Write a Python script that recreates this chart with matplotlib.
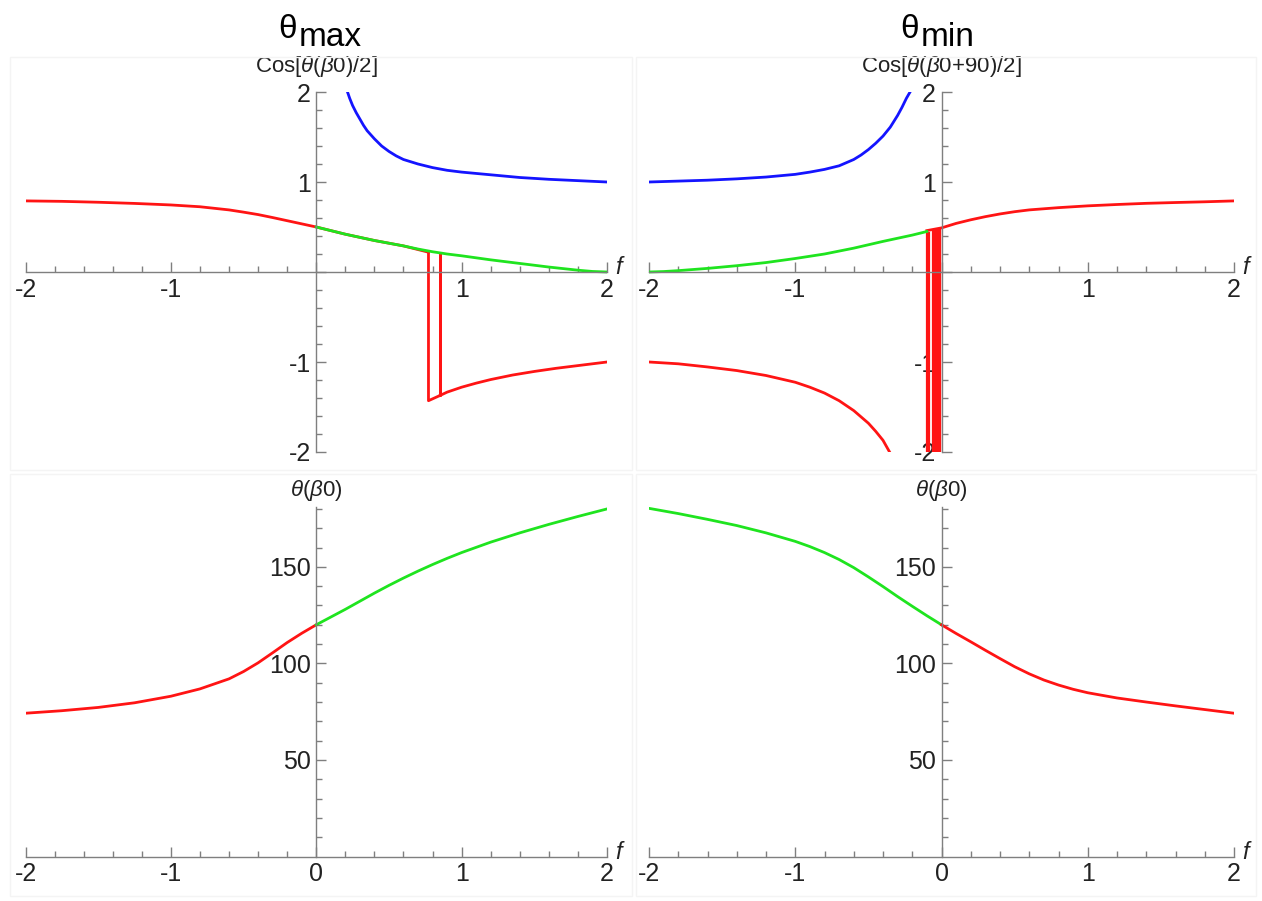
import matplotlib
matplotlib.use("Agg")
import matplotlib.pyplot as plt
import numpy as np

plt.rcParams['font.family'] = ['Liberation Sans', 'DejaVu Sans']
plt.rcParams['mathtext.fontset'] = 'custom'
plt.rcParams['mathtext.rm'] = 'Liberation Sans'
plt.rcParams['mathtext.it'] = 'Liberation Sans:italic'

RED = '#ff1414'
GREEN = '#1fe41f'
BLUE = '#1414ff'
AXIS = '#7f7f7f'
LABEL = '#222222'

# ---- theta_max, Cos[theta(b0)/2] ----
tl_red_f = [-2, -1.75, -1.5, -1.25, -1.0, -0.8, -0.6, -0.5, -0.4, -0.3, -0.2, -0.1, 0,
            0.2, 0.4, 0.6, 0.772]
tl_red_y = [0.79, 0.785, 0.775, 0.762, 0.745, 0.725, 0.69, 0.665, 0.638, 0.605, 0.57, 0.535, 0.5,
            0.42, 0.35, 0.29, 0.22]
tl_drop_f = [0.772, 0.772, 0.854, 0.854, 0.854]
tl_drop_y = [0.22, -1.43, -1.37, 0.20, -1.37]
tl_low_f = [0.854, 0.9, 1.0, 1.1, 1.2, 1.35, 1.5, 1.65, 1.8, 2.0]
tl_low_y = [-1.37, -1.335, -1.28, -1.235, -1.195, -1.145, -1.105, -1.07, -1.04, -1.0]
tl_green_f = [0, 0.1, 0.2, 0.3, 0.4, 0.5, 0.6, 0.7, 0.8, 0.9, 1.0, 1.2, 1.4, 1.6, 1.8, 1.9, 2.0]
tl_green_y = [0.5, 0.46, 0.42, 0.385, 0.35, 0.32, 0.29, 0.255, 0.225, 0.2, 0.18, 0.135, 0.095,
              0.055, 0.02, 0.006, 0.0]
tl_blue_f = [0.215, 0.23, 0.25, 0.275, 0.3, 0.325, 0.35, 0.4, 0.45, 0.5, 0.55, 0.6, 0.7, 0.8,
             0.9, 1.0, 1.2, 1.4, 1.6, 1.8, 2.0]
tl_blue_y = [2.0, 1.93, 1.85, 1.77, 1.70, 1.63, 1.57, 1.48, 1.40, 1.34, 1.29, 1.25, 1.20, 1.16,
             1.13, 1.11, 1.08, 1.05, 1.03, 1.015, 1.0]

# ---- theta_min, Cos[theta(b0+90)/2] ----
tr_red_f = [-0.1, 0, 0.1, 0.2, 0.3, 0.4, 0.5, 0.6, 0.8, 1.0, 1.2, 1.4, 1.6, 1.8, 2.0]
tr_red_y = [0.46, 0.49, 0.54, 0.58, 0.615, 0.645, 0.67, 0.69, 0.715, 0.735, 0.75, 0.763, 0.772,
            0.78, 0.79]
tr_low_f = [-2, -1.8, -1.6, -1.4, -1.2, -1.0, -0.9, -0.8, -0.7, -0.6, -0.5, -0.45, -0.4, -0.355]
tr_low_y = [-1.0, -1.02, -1.055, -1.095, -1.15, -1.225, -1.28, -1.345, -1.43, -1.54, -1.68,
            -1.77, -1.87, -2.0]
tr_green_f = [-2, -1.9, -1.8, -1.6, -1.4, -1.2, -1.0, -0.8, -0.6, -0.4, -0.2, -0.1]
tr_green_y = [0.0, 0.005, 0.015, 0.04, 0.07, 0.105, 0.15, 0.2, 0.265, 0.34, 0.41, 0.45]
tr_blue_f = [-2, -1.8, -1.6, -1.4, -1.2, -1.0, -0.9, -0.8, -0.7, -0.6, -0.55, -0.5, -0.45, -0.4,
             -0.35, -0.3, -0.27, -0.24, -0.215]
tr_blue_y = [1.0, 1.01, 1.02, 1.035, 1.055, 1.085, 1.11, 1.14, 1.18, 1.25, 1.30, 1.36, 1.43,
             1.51, 1.61, 1.74, 1.83, 1.93, 2.0]
tr_spike_f = [-0.100, -0.088, -0.055, -0.049, -0.043, -0.037, -0.031, -0.025, -0.019, -0.013,
              -0.008]
tr_spike_top = [0.45, 0.45, 0.47, 0.47, 0.475, 0.48, 0.48, 0.485, 0.485, 0.49, 0.49]

# ---- theta(b0) ----
bl_red_f = [-2, -1.75, -1.5, -1.25, -1.0, -0.8, -0.6, -0.5, -0.4, -0.3, -0.2, -0.1, 0]
bl_red_y = [74.2, 75.5, 77.2, 79.6, 83.0, 86.8, 92.0, 95.8, 100.3, 105.5, 110.8, 115.6, 120]
bl_green_f = [0, 0.1, 0.2, 0.3, 0.4, 0.5, 0.6, 0.7, 0.8, 0.9, 1.0, 1.2, 1.4, 1.6, 1.8, 2.0]
bl_green_y = [120, 124, 128, 132.2, 136.4, 140.4, 144.2, 147.8, 151.2, 154.4, 157.4, 162.8,
              167.6, 172.0, 176.1, 180]
br_green_f = [-2, -1.8, -1.6, -1.4, -1.2, -1.0, -0.9, -0.8, -0.7, -0.6, -0.5, -0.4, -0.3, -0.2,
              -0.1, 0]
br_green_y = [180.3, 177.6, 174.6, 171.4, 167.6, 163.2, 160.5, 157.4, 153.8, 149.6, 144.8,
              139.8, 134.6, 129.6, 124.7, 120]
br_red_f = [0, 0.1, 0.2, 0.3, 0.4, 0.5, 0.6, 0.7, 0.8, 0.9, 1.0, 1.2, 1.4, 1.6, 1.8, 2.0]
br_red_y = [120, 115.5, 111.2, 106.8, 102.5, 98.3, 94.6, 91.4, 88.8, 86.6, 84.8, 82.1, 80.0,
            78.0, 76.1, 74.2]

x_ticks = [-2, -1, 0, 1, 2]

W, H = 1262, 901
fig = plt.figure(figsize=(W / 100, H / 100), dpi=100)


def px_rect(x0, x1, ytop, ybot):
    return [x0 / W, 1 - ybot / H, (x1 - x0) / W, (ybot - ytop) / H]


def style_axes(ax, ylim, yticks, ylabels, yminor, xlabels, ylabel, label_gap):
    ax.set_xlim(-2, 2)
    ax.set_ylim(*ylim)
    ax.patch.set_alpha(0)
    for side in ('top', 'right'):
        ax.spines[side].set_visible(False)
    ax.spines['left'].set_position(('data', 0))
    ax.spines['bottom'].set_position(('data', 0))
    for side in ('left', 'bottom'):
        ax.spines[side].set_color(AXIS)
        ax.spines[side].set_linewidth(1.0)
    ax.set_xticks(x_ticks)
    ax.set_xticklabels(xlabels)
    ax.set_xticks(np.arange(-2, 2.01, 0.2), minor=True)
    ax.set_yticks(yticks)
    ax.set_yticklabels(ylabels)
    ax.set_yticks(yminor, minor=True)
    ax.tick_params(which='both', direction='in', color=AXIS, width=1.0,
                   labelsize=18, labelcolor=LABEL, pad=4)
    ax.tick_params(which='major', length=7)
    ax.tick_params(which='minor', length=4)
    ax.annotate(ylabel, xy=(0, 1), xycoords=('data', 'axes fraction'),
                xytext=(0, label_gap), textcoords='offset points', ha='center',
                va='bottom', fontsize=16, color=LABEL, annotation_clip=False)
    ax.annotate('f', xy=(1, 0), xycoords=('axes fraction', 'data'),
                xytext=(6, 3), textcoords='offset points', ha='left',
                va='center', fontsize=17, style='italic', color=LABEL,
                annotation_clip=False)


cos_ticks = [-2, -1, 0, 1, 2]
cos_labels = ['-2', '-1', '', '1', '2']
cos_minor = np.arange(-2, 2.01, 0.2)
th_ticks = [50, 100, 150]
th_labels = ['50', '100', '150']
th_minor = np.arange(10, 181, 10)
lw = 2.0

ax_tl = fig.add_axes(px_rect(25.5, 607, 92, 452))
style_axes(ax_tl, (-2, 2), cos_ticks, cos_labels, cos_minor,
           ['-2', '-1', '', '1', '2'], r'Cos[$\theta$($\beta$0)/2]', 9.5)
ax_tl.plot(tl_red_f, tl_red_y, color=RED, lw=lw)
ax_tl.plot(tl_drop_f, tl_drop_y, color=RED, lw=lw)
ax_tl.plot(tl_low_f, tl_low_y, color=RED, lw=lw)
ax_tl.plot(tl_green_f, tl_green_y, color=GREEN, lw=lw)
ax_tl.plot(tl_blue_f, tl_blue_y, color=BLUE, lw=lw)

ax_tr = fig.add_axes(px_rect(649, 1234, 92, 452))
style_axes(ax_tr, (-2, 2), cos_ticks, cos_labels, cos_minor,
           ['-2', '-1', '', '1', '2'], r'Cos[$\theta$($\beta$0+90)/2]', 9.5)
ax_tr.plot(tr_red_f, tr_red_y, color=RED, lw=lw)
ax_tr.plot(tr_low_f, tr_low_y, color=RED, lw=lw)
ax_tr.vlines(tr_spike_f, -2, tr_spike_top, color=RED, lw=1.6)
ax_tr.plot(tr_green_f, tr_green_y, color=GREEN, lw=lw)
ax_tr.plot(tr_blue_f, tr_blue_y, color=BLUE, lw=lw)

ax_bl = fig.add_axes(px_rect(25.5, 607, 507, 856.5))
style_axes(ax_bl, (0, 181), th_ticks, th_labels, th_minor,
           ['-2', '-1', '0', '1', '2'], r'$\theta$($\beta$0)', 3)
ax_bl.plot(bl_red_f, bl_red_y, color=RED, lw=lw)
ax_bl.plot(bl_green_f, bl_green_y, color=GREEN, lw=lw)

ax_br = fig.add_axes(px_rect(649, 1234, 507, 856.5))
style_axes(ax_br, (0, 181), th_ticks, th_labels, th_minor,
           ['-2', '-1', '0', '1', '2'], r'$\theta$($\beta$0)', 3)
ax_br.plot(br_green_f, br_green_y, color=GREEN, lw=lw)
ax_br.plot(br_red_f, br_red_y, color=RED, lw=lw)

# faint frames around the four plots
for x0, x1, y0, y1 in [(10, 632, 57, 470), (636, 1256, 57, 470),
                       (10, 632, 474, 896), (636, 1256, 474, 896)]:
    fig.add_artist(plt.Rectangle((x0 / W, 1 - y1 / H), (x1 - x0) / W,
                                 (y1 - y0) / H, transform=fig.transFigure,
                                 fill=False, edgecolor='#f4f4f4', lw=1.0))

# column headings
for xc, sub in [(297, 'max'), (919, 'min')]:
    fig.text(xc / W, 1 - 38 / H, 'θ', ha='right', va='baseline', fontsize=24)
    fig.text((xc + 2) / W, 1 - 46 / H, sub, ha='left', va='baseline', fontsize=24)

fig.savefig('out.png', dpi=100)
